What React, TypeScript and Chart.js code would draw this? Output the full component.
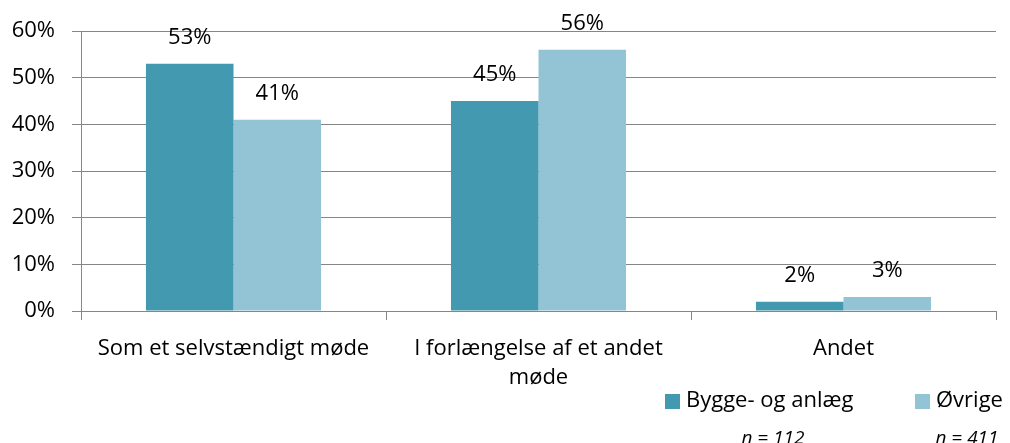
import React, { useEffect, useRef } from "react";
import { Chart, registerables } from "chart.js";

Chart.register(...registerables);

const categories: (string | string[])[] = [
  "Som et selvstændigt møde",
  ["I forlængelse af et andet", "møde"],
  "Andet",
];
const seriesNames = ["Bygge- og anlæg", "Øvrige"];
const byggeValues = [53, 45, 2];
const ovrigeValues = [41, 56, 3];
const sampleLabels = ["n = 112", "n = 411"];
const colors = ["#4399B0", "#93C4D5"];
const FONT = "'Open Sans', 'Noto Sans', sans-serif";
const FS = 22;

const dataLabelPlugin = {
  id: "dataLabels",
  afterDatasetsDraw(chart: any) {
    const ctx = chart.ctx;
    ctx.save();
    ctx.font = `${FS}px ${FONT}`;
    ctx.fillStyle = "#000";
    ctx.textAlign = "center";
    ctx.textBaseline = "middle";
    chart.data.datasets.forEach((ds: any, i: number) => {
      const meta = chart.getDatasetMeta(i);
      meta.data.forEach((bar: any, j: number) => {
        ctx.fillText(ds.data[j] + "%", bar.x, bar.y - 26);
      });
    });
    ctx.restore();
  },
};

const legendPlugin = {
  id: "customLegend",
  afterDraw(chart: any) {
    const ctx = chart.ctx;
    ctx.save();
    const items = [
      { boxX: 665, textX: 686, nX: 773 },
      { boxX: 915, textX: 936, nX: 967 },
    ];
    items.forEach((it, i) => {
      ctx.fillStyle = colors[i];
      ctx.fillRect(it.boxX, 394, 15, 15);
      ctx.fillStyle = "#000";
      ctx.font = `${FS}px ${FONT}`;
      ctx.textAlign = "left";
      ctx.textBaseline = "middle";
      ctx.fillText(seriesNames[i], it.textX, 401);
      ctx.font = `italic 19px ${FONT}`;
      ctx.textAlign = "center";
      ctx.fillText(sampleLabels[i], it.nX, 439);
    });
    ctx.restore();
  },
};

export default function App() {
  const ref = useRef<HTMLCanvasElement>(null);
  useEffect(() => {
    if (!ref.current) return;
    const chart = new Chart(ref.current, {
      type: "bar",
      data: {
        labels: categories,
        datasets: [
          {
            label: seriesNames[0],
            data: byggeValues,
            backgroundColor: colors[0],
            barPercentage: 1,
            categoryPercentage: 0.574,
          },
          {
            label: seriesNames[1],
            data: ovrigeValues,
            backgroundColor: colors[1],
            barPercentage: 1,
            categoryPercentage: 0.574,
          },
        ],
      },
      options: {
        animation: false,
        responsive: false,
        maintainAspectRatio: false,
        layout: { padding: { top: 31, right: 14, left: 0, bottom: 0 } },
        plugins: {
          legend: { display: false },
          tooltip: { enabled: false },
        },
        scales: {
          x: {
            grid: {
              offset: true,
              drawOnChartArea: false,
              drawTicks: true,
              tickLength: 9,
              color: "#868686",
              lineWidth: 1,
            },
            border: { color: "#868686", width: 1 },
            ticks: {
              color: "#000",
              font: { family: FONT, size: FS, lineHeight: 1.32 },
              padding: 14,
              maxRotation: 0,
              autoSkip: false,
            },
            afterFit(scale: any) {
              scale.height = 132;
            },
          },
          y: {
            min: 0,
            max: 60,
            ticks: {
              stepSize: 10,
              color: "#000",
              font: { family: FONT, size: FS },
              padding: 17,
              callback: (v: any) => v + "%",
            },
            grid: {
              color: "#868686",
              tickLength: 9,
              lineWidth: 1,
            },
            border: { color: "#868686", width: 1 },
            afterFit(scale: any) {
              scale.width = 81;
            },
          },
        },
      },
      plugins: [dataLabelPlugin, legendPlugin],
    });
    return () => chart.destroy();
  }, []);
  return (
    <div style={{ position: "fixed", left: 0, top: 0, width: 1010, height: 443, background: "#fff" }}>
      <canvas ref={ref} width={1010} height={443} style={{ width: 1010, height: 443 }} />
    </div>
  );
}
